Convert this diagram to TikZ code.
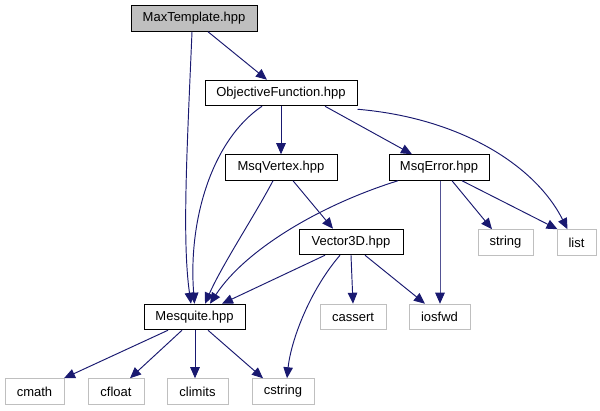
\documentclass[tikz,border=0pt]{standalone}
\usepackage{fontspec}
\setmainfont{Liberation Sans}
\usetikzlibrary{arrows.meta}
\definecolor{edgeblue}{HTML}{191970}
\definecolor{extgray}{HTML}{BFBFBF}
\tikzset{
  box/.style={draw=black, line width=1pt, minimum height=25.5pt, inner sep=0pt, font=\fontsize{13}{15}\selectfont},
  ext/.style={draw=extgray, line width=1pt, minimum height=25.5pt, inner sep=0pt, font=\fontsize{13}{15}\selectfont},
  cur/.style={box, fill=extgray},
  dep/.style={draw=edgeblue, line width=0.95pt, -{Triangle[length=11pt,width=9.5pt,color=edgeblue,fill=edgeblue]}}
}
\begin{document}
\begin{tikzpicture}[x=1pt,y=-1pt]
\useasboundingbox (0,0) rectangle (600,411);
% nodes
\node[cur, minimum width=126pt] (max) at (194,18.5) {MaxTemplate.hpp};
\node[box, minimum width=152pt] (obj) at (281,93) {ObjectiveFunction.hpp};
\node[box, minimum width=112pt] (vtx) at (281,167.5) {MsqVertex.hpp};
\node[box, minimum width=100pt] (err) at (439,167.5) {MsqError.hpp};
\node[box, minimum width=104pt] (vec) at (351,242) {Vector3D.hpp};
\node[ext, minimum width=55pt] (str) at (505.5,242.5) {string};
\node[ext, minimum width=39pt] (lst) at (576.5,242.5) {list};
\node[box, minimum width=101pt] (mesq) at (194.5,317) {Mesquite.hpp};
\node[ext, minimum width=66pt] (cas) at (353,317) {cassert};
\node[ext, minimum width=61pt] (ios) at (439.5,317) {iosfwd};
\node[ext, minimum width=59pt] (cmath) at (34.5,391.5) {cmath};
\node[ext, minimum width=56pt] (cfloat) at (116,391.5) {cfloat};
\node[ext, minimum width=61pt] (climits) at (197.5,391.5) {climits};
\node[ext, minimum width=62pt] (cstring) at (283,391.5) {cstring};
% edges
\draw[dep] ([xshift=-2pt]max.south) .. controls (187,150) and (182,240) .. ([xshift=-3.5pt]mesq.north);
\draw[dep] ([xshift=14pt]max.south) -- ([xshift=-14pt]obj.north);
\draw[dep] ([xshift=-19pt]obj.south) .. controls (212,140) and (188,220) .. ([xshift=0pt]mesq.north);
\draw[dep] (obj.south) -- (vtx.north);
\draw[dep] ([xshift=44pt]obj.south) -- ([xshift=-27pt]err.north);
\draw[dep] ([yshift=-3pt]obj.south east) .. controls (460,118) and (535,165) .. ([xshift=-9pt]lst.north);
\draw[dep] ([xshift=-8pt]vtx.south) .. controls (255,215) and (222,265) .. ([xshift=10.5pt]mesq.north);
\draw[dep] ([xshift=12pt]vtx.south) -- ([xshift=-18pt]vec.north);
\draw[dep] ([xshift=-41pt]err.south) .. controls (320,205) and (245,250) .. ([xshift=15.5pt]mesq.north);
\draw[dep, draw=edgeblue!75] ([xshift=1pt]err.south) -- ([xshift=0.5pt]ios.north);
\draw[dep] ([xshift=13pt]err.south) -- ([xshift=-13.5pt]str.north);
\draw[dep] ([xshift=23pt]err.south) -- ([xshift=-19pt]lst.north);
\draw[dep] ([xshift=-26pt]vec.south) -- ([xshift=27.5pt]mesq.north);
\draw[dep] ([xshift=-11pt]vec.south) .. controls (310,290) and (291,340) .. ([xshift=4pt]cstring.north);
\draw[dep] (vec.south) -- (cas.north);
\draw[dep] ([xshift=14pt]vec.south) -- ([xshift=-14.5pt]ios.north);
\draw[dep] ([xshift=-26.5pt]mesq.south) -- ([xshift=29.5pt]cmath.north);
\draw[dep] ([xshift=-12.5pt]mesq.south) -- ([xshift=14pt]cfloat.north);
\draw[dep] ([xshift=0.5pt]mesq.south) -- ([xshift=-2.5pt]climits.north);
\draw[dep] ([xshift=13.5pt]mesq.south) -- ([xshift=-20pt]cstring.north);
\end{tikzpicture}
\end{document}
